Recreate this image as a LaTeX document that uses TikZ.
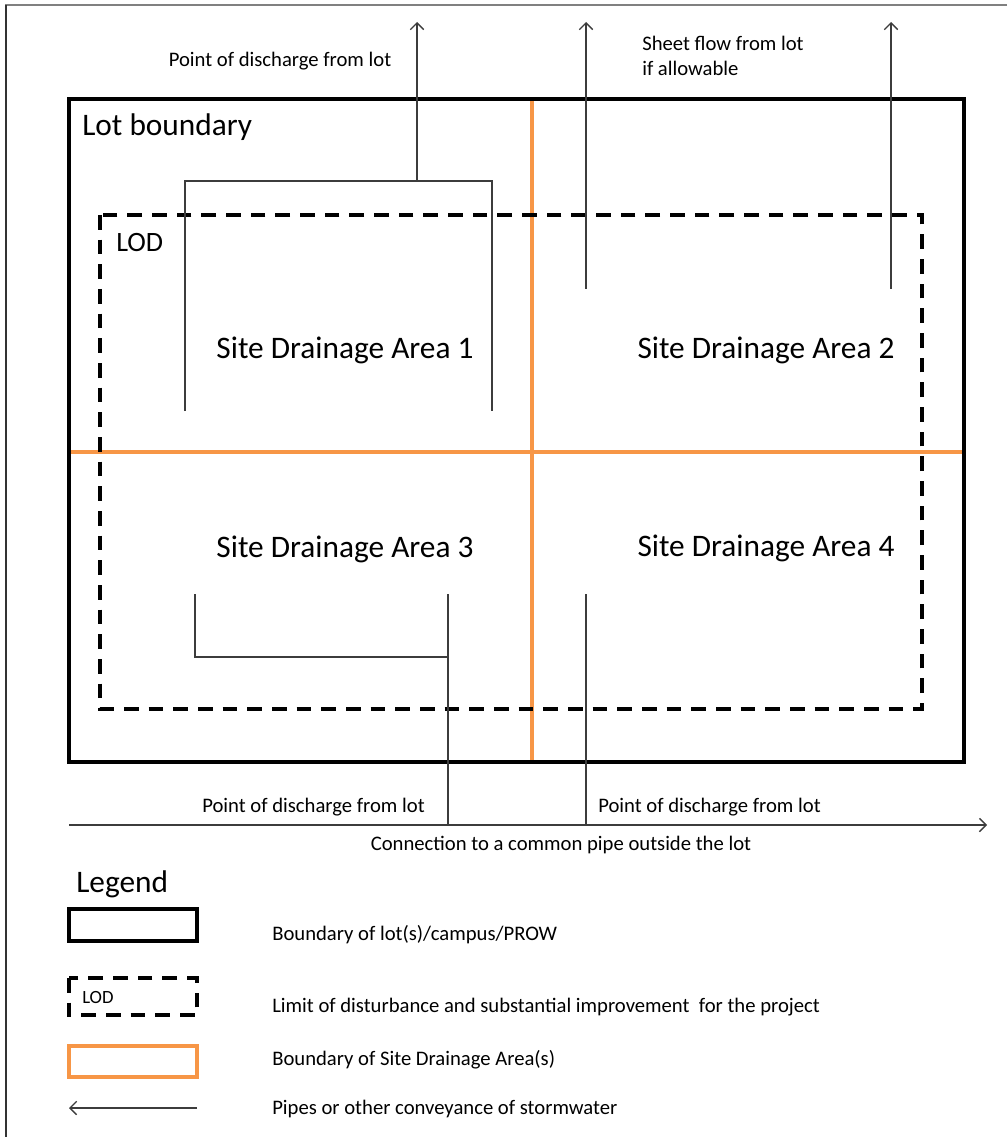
\documentclass[tikz,border=0pt]{standalone}
\usepackage{fontspec}
\setmainfont{Carlito}
\usetikzlibrary{arrows.meta}
\definecolor{sdaorange}{RGB}{247,150,70}
\definecolor{pipegray}{RGB}{60,60,60}

\begin{document}
\begin{tikzpicture}[x=0.75pt, y=-0.75pt,
  lot/.style={draw=black, line width=2.6pt},
  lod/.style={draw=black, line width=2.6pt, dash pattern=on 11pt off 7.5pt},
  sda/.style={draw=sdaorange, line width=2.8pt},
  pipe/.style={draw=pipegray, line width=1.1pt},
  flow/.style={pipe, -{Straight Barb[length=5pt, width=10pt, line width=1pt]}},
  small/.style={font=\fontsize{15.5}{19}\selectfont, inner sep=0pt},
  big/.style={font=\fontsize{23.5}{28}\selectfont, inner sep=0pt}]

  \useasboundingbox (0,0) rectangle (1007,1137);
  \draw[gray, line width=0.8pt] (1007,5) -- (5,5);
  \draw[black!80, line width=0.8pt] (6,5) -- (6,1137);

  % drainage areas, lot, LOD
  \draw[sda] (532,99) -- (532,762);
  \draw[sda] (69,452) -- (964,452);
  \draw[lot] (69,99) rectangle (964,762);
  \draw[lod] (100,215) rectangle (922,709);

  \node[big, anchor=west] (lotlabel) at (82,127) {Lot boundary};
  \node[big, anchor=west, font=\fontsize{21}{25}\selectfont] (lodlabel) at (116,243) {LOD};

  \node[big] (area1) at (345,350) {Site Drainage Area 1};
  \node[big] (area2) at (766,350) {Site Drainage Area 2};
  \node[big] (area3) at (345,549) {Site Drainage Area 3};
  \node[big] (area4) at (766,548) {Site Drainage Area 4};

  % pipes
  \coordinate (p1l) at (185,411);
  \coordinate (p1r) at (492,411);
  \coordinate (p1o) at (417,181);
  \coordinate (p1t) at (417,22);
  \draw[pipe] (p1l) |- (p1o) -| (p1r);
  \draw[flow] (p1o) -- (p1t);

  \coordinate (s2) at (586,289);
  \coordinate (s2t) at (586,22);
  \coordinate (s4) at (891,289);
  \coordinate (s4t) at (891,22);
  \draw[flow] (s2) -- (s2t);
  \draw[flow] (s4) -- (s4t);

  \coordinate (main0) at (69,825);
  \coordinate (main1) at (987,825);
  \coordinate (p3l) at (195,594);
  \coordinate (p3r) at (448,594);
  \coordinate (p3o) at (448,825);
  \coordinate (p4s) at (586,594);
  \coordinate (p4o) at (586,825);
  \draw[pipe] (p3l) |- (448,657);
  \draw[pipe] (p3r) -- (p3o);
  \draw[pipe] (p4s) -- (p4o);
  \draw[flow] (main0) -- (main1);

  \node[small] (topdis) at (280,61) {Point of discharge from lot};
  \node[small, anchor=north west, align=left] (sheet) at (642,36) {Sheet flow from lot\\if allowable};
  \node[small, anchor=east] (dis3) at (425,807) {Point of discharge from lot};
  \node[small, anchor=west] (dis4) at (598,807) {Point of discharge from lot};
  \node[small] (common) at (561,845) {Connection to a common pipe outside the lot};

  % legend
  \node[big, anchor=west] (legend) at (76,884) {Legend};
  \draw[lot] (69,909) rectangle (197,941);
  \node[small, anchor=west] (leglot) at (272,935) {Boundary of lot(s)/campus/PROW};
  \draw[lod] (69,978) rectangle (197,1015);
  \node[small, anchor=west, font=\fontsize{14}{17}\selectfont] (leglodbox) at (82,997) {LOD};
  \node[small, anchor=west] (leglod) at (272,1007) {Limit of disturbance and substantial improvement\ \ for the project};
  \draw[sda] (69,1046) rectangle (197,1077);
  \node[small, anchor=west] (legsda) at (272,1060) {Boundary of Site Drainage Area(s)};
  \coordinate (lp0) at (197,1108);
  \coordinate (lp1) at (69,1108);
  \draw[flow] (lp0) -- (lp1);
  \node[small, anchor=west] (legpipe) at (272,1109) {Pipes or other conveyance of stormwater};

\end{tikzpicture}
\end{document}
